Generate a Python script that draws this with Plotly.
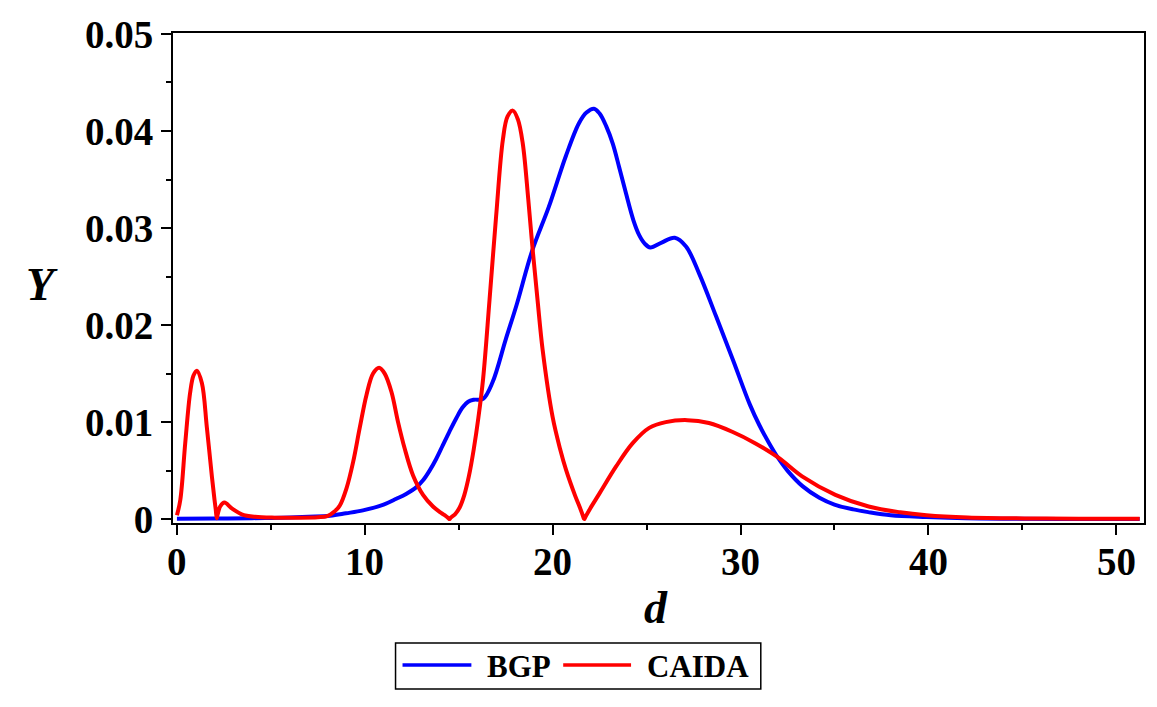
import plotly.graph_objects as go

# ---------------- data ----------------
bgp_d = [0, 2, 4, 5, 6, 7, 8.15, 9, 9.9, 11, 11.68, 12.2, 12.75, 13.1, 13.45, 13.8, 14.15,
         14.5, 14.87, 15.2, 15.5, 15.8, 16.3, 16.8, 17.5, 18.1, 18.9, 19.8, 20.7, 21.4,
         21.8, 22.2, 22.5, 22.85, 23.2, 23.55, 23.9, 24.3, 24.6, 24.9, 25.2, 25.8, 26.5,
         27.1, 27.8, 28.7, 29.6, 30.5, 31.0, 31.5, 32.0, 32.5, 33.3, 34.2, 35.0, 36.0,
         36.8, 38.0, 39.9, 42, 44, 47, 51.25]
bgp_y = [0.00005, 0.00006, 0.0001, 0.00012, 0.00017, 0.00025, 0.00035, 0.0006, 0.0009,
         0.0015, 0.0021, 0.0026, 0.0033, 0.0040, 0.0050, 0.0062, 0.0076, 0.0090, 0.0104,
         0.0115, 0.0121, 0.0123, 0.0124, 0.0141, 0.0185, 0.0222, 0.0276, 0.0322, 0.0374,
         0.0408, 0.0419, 0.0423, 0.0418, 0.0405, 0.0387, 0.0362, 0.0336, 0.0308, 0.0293,
         0.0284, 0.0280, 0.0285, 0.0290, 0.0281, 0.0253, 0.0209, 0.0164, 0.0118, 0.0097,
         0.0079, 0.0063, 0.0050, 0.0034, 0.0022, 0.0015, 0.0010, 0.00072, 0.0004, 0.00022,
         0.0001, 0.00005, 0.00002, 0.00001]

caida_d = [0, 0.18, 0.44, 0.7, 0.88, 1.06, 1.33, 1.59, 1.86, 2.0, 2.07, 2.12, 2.17, 2.3,
           2.53, 2.92, 3.45, 4.16, 5.2, 6.5, 7.5, 8.0, 8.4, 8.67, 9.03, 9.38, 9.73, 10.09,
           10.44, 10.76, 11.06, 11.42, 11.77, 12.12, 12.57, 13.1, 13.63, 13.98, 14.25,
           14.45, 14.51, 14.57, 14.8, 15.05, 15.3, 15.55, 15.8, 16.05, 16.3, 16.64, 16.99,
           17.35, 17.6, 17.88, 18.15, 18.41, 18.7, 18.94, 19.2, 19.47, 20.0, 20.4, 20.71,
           21.2, 21.45, 21.62, 21.68, 21.74, 22.0, 22.48, 23.37, 24.25, 25.14, 26.02, 27.17,
           28.32, 29.56, 30.8, 32.04, 33.28, 35.05, 36.82, 38.5, 39.9, 42.1, 45.1, 48, 51.25]
caida_y = [0.0004, 0.002, 0.0078, 0.013, 0.0148, 0.0153, 0.014, 0.0095, 0.0044, 0.002,
           0.0009, 0.0001, 0.0005, 0.0013, 0.0017, 0.0011, 0.0005, 0.00024, 0.00015,
           0.00015, 0.0002, 0.0003, 0.0008, 0.0014, 0.0032, 0.0059, 0.0094, 0.0128, 0.0150,
           0.0156, 0.0150, 0.0131, 0.0100, 0.0073, 0.0045, 0.0025, 0.0013, 0.00075, 0.0004,
           0.0001, 0.0000, 0.00015, 0.0005, 0.0012, 0.0025, 0.0045, 0.0072, 0.0105, 0.0145,
           0.0226, 0.0312, 0.0391, 0.0415, 0.0421, 0.0412, 0.0387, 0.0330, 0.0277, 0.0225,
           0.0174, 0.0105, 0.0072, 0.0051, 0.0024, 0.0012, 0.0003, 0.0000, 0.0002, 0.0011,
           0.0026, 0.0054, 0.0078, 0.0094, 0.0100, 0.0102, 0.0099, 0.0090, 0.0078, 0.0063,
           0.0044, 0.0025, 0.0013, 0.0007, 0.0004, 0.00017, 0.00007, 0.00004, 0.00003]

x_ticks = [0, 10, 20, 30, 40, 50]
x_labels = ["0", "10", "20", "30", "40", "50"]
y_ticks = [0, 0.01, 0.02, 0.03, 0.04, 0.05]
y_labels = ["0", "0.01", "0.02", "0.03", "0.04", "0.05"]
series_names = ["BGP", "CAIDA"]
series_colors = ["#0000ff", "#ff0000"]

# ---------------- figure ----------------
W, H = 1157, 707
ML, MR, MT, MB = 173, 11, 33, 184
FONT = "Liberation Serif"
TICKFONT = dict(family=FONT, size=39, color="black", weight="bold")

fig = go.Figure()
for name, xs, ys, col in [(series_names[0], bgp_d, bgp_y, series_colors[0]),
                          (series_names[1], caida_d, caida_y, series_colors[1])]:
    fig.add_trace(go.Scatter(x=xs, y=ys, mode="lines", name=name, showlegend=False,
                             line=dict(color=col, width=4, shape="spline", smoothing=1)))

axis_common = dict(showline=True, linecolor="black", linewidth=2, mirror=True,
                   showgrid=False, zeroline=False, ticks="outside", ticklen=10,
                   tickwidth=2, tickcolor="black", tickfont=TICKFONT)

fig.update_xaxes(range=[-0.21, 51.48], tickvals=x_ticks, ticktext=x_labels,
                 showticklabels=False,
                 minor=dict(dtick=5, tick0=0, ticks="outside", ticklen=5, tickwidth=1.5,
                            tickcolor="black"),
                 **axis_common)
fig.update_yaxes(range=[-0.0004, 0.0501], tickvals=y_ticks, ticktext=y_labels,
                 minor=dict(dtick=0.005, tick0=0, ticks="outside", ticklen=5, tickwidth=1.5,
                            tickcolor="black"),
                 **axis_common)

def px_x(p):
    return (p - ML) / (W - ML - MR)

def px_y(p):
    return (H - MB - p) / (H - MT - MB)

annotations = [
    dict(text="<b><i>d</i></b>", x=px_x(657), y=px_y(607), xref="paper", yref="paper",
         showarrow=False, xanchor="center", yanchor="middle",
         font=dict(family=FONT, size=46, color="black")),
    dict(text="<b><i>Y</i></b>", x=px_x(42), y=px_y(284), xref="paper", yref="paper",
         showarrow=False, xanchor="center", yanchor="middle",
         font=dict(family=FONT, size=46, color="black")),
]

# x tick labels placed at the tick values (tighter to the axis than plotly's default)
for v, lab in zip(x_ticks, x_labels):
    annotations.append(dict(text=lab, x=v, y=px_y(561), xref="x", yref="paper",
                            showarrow=False, xanchor="center", yanchor="middle",
                            font=TICKFONT))

# manual legend (box, line samples, labels)
shapes = [dict(type="rect", xref="paper", yref="paper", x0=px_x(396), x1=px_x(762),
               y0=px_y(689), y1=px_y(643), line=dict(color="black", width=1.5),
               fillcolor="white")]
leg_items = [(403, 472, 486), (564, 632, 646)]
for (lx0, lx1, tx), name, col in zip(leg_items, series_names, series_colors):
    shapes.append(dict(type="line", xref="paper", yref="paper", x0=px_x(lx0), x1=px_x(lx1),
                       y0=px_y(665), y1=px_y(665), line=dict(color=col, width=3.5)))
    annotations.append(dict(text="<b>" + name + "</b>", x=px_x(tx), y=px_y(666),
                            xref="paper", yref="paper", showarrow=False,
                            xanchor="left", yanchor="middle",
                            font=dict(family=FONT, size=31, color="black")))

fig.update_layout(width=W, height=H, margin=dict(l=ML, r=MR, t=MT, b=MB),
                  paper_bgcolor="white", plot_bgcolor="white",
                  annotations=annotations, shapes=shapes, showlegend=False)

fig.write_html("out.html")
